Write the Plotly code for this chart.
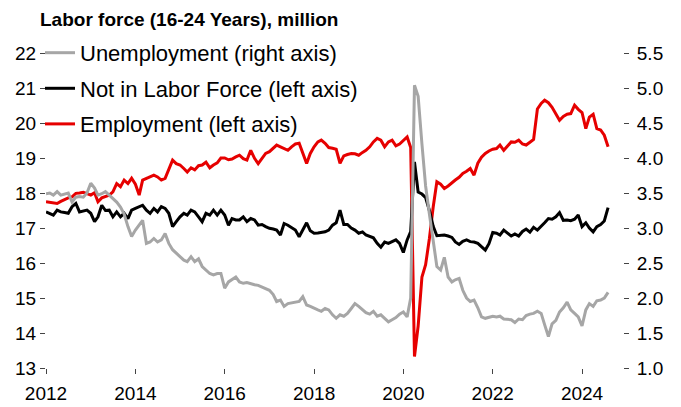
import pandas as pd
import plotly.graph_objects as go

# Monthly observations, Jan 2012 - Aug 2024
start_month = "2012-01-01"
n_months = 152

employment = [
    # 2012
    17.75, 17.74, 17.72, 17.70, 17.76, 17.82, 17.86, 17.89, 17.99, 18.00, 18.02, 17.98,
    # 2013
    17.94, 18.01, 17.75, 17.86, 17.89, 17.94, 18.03, 18.27, 18.18, 18.37, 18.27, 18.42,
    # 2014
    18.25, 17.94, 18.37, 18.42, 18.46, 18.51, 18.46, 18.37, 18.42, 18.70, 18.94, 18.84,
    # 2015
    18.80, 18.70, 18.60, 18.72, 18.66, 18.78, 18.80, 18.88, 18.72, 18.80, 18.86, 19.00,
    # 2016
    19.00, 18.95, 18.97, 19.03, 19.08, 18.98, 18.94, 19.22, 18.99, 18.84, 18.99, 19.13,
    # 2017
    19.18, 19.27, 19.37, 19.32, 19.27, 19.22, 19.32, 19.40, 19.42, 19.15, 18.84, 19.13,
    # 2018
    19.32, 19.46, 19.51, 19.42, 19.30, 19.28, 19.25, 18.85, 19.06, 19.10, 19.13, 19.12,
    # 2019
    19.08, 19.16, 19.22, 19.32, 19.46, 19.56, 19.51, 19.32, 19.46, 19.51, 19.35, 19.40,
    # 2020
    19.50, 19.60, 19.30, 13.33, 14.20, 15.60, 15.95, 16.70, 17.60, 18.32, 18.25, 18.13,
    # 2021
    18.20, 18.30, 18.37, 18.45, 18.56, 18.62, 18.70, 18.51, 18.85, 19.02, 19.13, 19.20,
    # 2022
    19.25, 19.27, 19.37, 19.22, 19.35, 19.46, 19.45, 19.51, 19.40, 19.37, 19.45, 19.53,
    # 2023
    20.40, 20.56, 20.65, 20.58, 20.45, 20.28, 20.08, 20.19, 20.25, 20.27, 20.51, 20.39,
    # 2024
    20.30, 19.84, 20.17, 20.25, 19.84, 19.80, 19.65, 19.32,
]

not_in_labor_force = [
    # 2012
    17.46, 17.42, 17.37, 17.51, 17.46, 17.44, 17.42, 17.61, 17.70, 17.46, 17.48, 17.51,
    # 2013
    17.42, 17.18, 17.32, 17.65, 17.50, 17.51, 17.32, 17.46, 17.32, 17.42, 17.27, 17.51,
    # 2014
    17.56, 17.61, 17.65, 17.51, 17.42, 17.56, 17.46, 17.61, 17.56, 17.42, 17.04, 17.18,
    # 2015
    17.32, 17.42, 17.37, 17.51, 17.46, 17.32, 17.18, 17.42, 17.37, 17.51, 17.37, 17.51,
    # 2016
    17.37, 17.08, 17.27, 17.23, 17.23, 17.32, 17.18, 17.27, 17.23, 17.08, 17.10, 17.04,
    # 2017
    16.99, 16.97, 16.94, 16.80, 17.13, 17.08, 17.00, 16.94, 16.75, 16.95, 17.15, 16.92,
    # 2018
    16.85, 16.86, 16.88, 16.89, 16.94, 17.08, 17.15, 17.51, 17.10, 17.10, 17.00, 16.94,
    # 2019
    16.85, 16.89, 16.80, 16.75, 16.72, 16.56, 16.45, 16.60, 16.56, 16.61, 16.66, 16.56,
    # 2020
    16.30, 16.66, 16.90, 18.89, 18.03, 17.97, 17.87, 17.50, 17.05, 16.78, 16.78, 16.80,
    # 2021
    16.77, 16.73, 16.60, 16.53, 16.62, 16.66, 16.61, 16.60, 16.56, 16.47, 16.37, 16.55,
    # 2022
    16.87, 16.85, 16.80, 16.94, 16.85, 16.77, 16.83, 16.77, 16.90, 16.97, 16.88, 17.02,
    # 2023
    16.94, 17.04, 17.15, 17.27, 17.25, 17.32, 17.44, 17.22, 17.23, 17.21, 17.25, 17.37,
    # 2024
    17.04, 17.15, 17.00, 16.89, 17.04, 17.10, 17.20, 17.58,
]

unemployment = [
    # 2012
    3.49, 3.50, 3.47, 3.52, 3.47, 3.48, 3.50, 3.37, 3.44, 3.45, 3.44, 3.50,
    # 2013
    3.64, 3.57, 3.47, 3.49, 3.52, 3.47, 3.42, 3.37, 3.30, 3.20, 3.02, 2.88,
    # 2014
    2.97, 3.04, 3.11, 2.78, 2.80, 2.85, 2.80, 2.83, 2.92, 2.78, 2.69, 2.64,
    # 2015
    2.59, 2.54, 2.52, 2.59, 2.52, 2.56, 2.45, 2.40, 2.35, 2.33, 2.35, 2.35,
    # 2016
    2.14, 2.23, 2.26, 2.30, 2.23, 2.21, 2.22, 2.20, 2.19, 2.18, 2.16, 2.14,
    # 2017
    2.11, 2.05, 1.95, 1.97, 1.88, 1.92, 1.93, 1.94, 1.95, 2.02, 1.90, 1.88,
    # 2018
    1.86, 1.83, 1.81, 1.85, 1.83, 1.76, 1.71, 1.76, 1.74, 1.78, 1.85, 1.92,
    # 2019
    1.88, 1.83, 1.79, 1.77, 1.81, 1.74, 1.76, 1.71, 1.66, 1.69, 1.72, 1.77,
    # 2020
    1.80, 1.73, 2.00, 5.04, 4.88, 4.20, 3.60, 3.20, 2.85, 2.45, 2.40, 2.58,
    # 2021
    2.30, 2.23, 2.26, 2.28, 2.11, 2.00, 1.95, 1.97, 1.86, 1.73, 1.71, 1.72,
    # 2022
    1.74, 1.73, 1.74, 1.70, 1.69, 1.69, 1.65, 1.70, 1.69, 1.75, 1.77, 1.78,
    # 2023
    1.81, 1.78, 1.62, 1.45, 1.63, 1.68, 1.80, 1.86, 1.94, 1.83, 1.78, 1.73,
    # 2024
    1.60, 1.83, 1.92, 1.88, 1.96, 1.97, 2.00, 2.08,
]

x_tick_years = [2012, 2014, 2016, 2018, 2020, 2022, 2024]
left_ticks = [13, 14, 15, 16, 17, 18, 19, 20, 21, 22]
right_ticks = [1.0, 1.5, 2.0, 2.5, 3.0, 3.5, 4.0, 4.5, 5.0, 5.5]

names = ["Employment (left axis)", "Not in Labor Force (left axis)", "Unemployment (right axis)"]
legend_rank = [3, 2, 1]
title_text = "Labor force (16-24 Years), million"

dates = pd.date_range(start=start_month, periods=n_months, freq="MS")

FONT = "Liberation Sans, Arial, sans-serif"

fig = go.Figure()
fig.add_trace(go.Scatter(x=dates, y=employment, name=names[0], mode="lines",
                         line=dict(color="#E60000", width=3), legendgroup="a",
                         legendrank=legend_rank[0], yaxis="y"))
fig.add_trace(go.Scatter(x=dates, y=not_in_labor_force, name=names[1], mode="lines",
                         line=dict(color="#000000", width=3), legendgroup="b",
                         legendrank=legend_rank[1], yaxis="y"))
fig.add_trace(go.Scatter(x=dates, y=unemployment, name=names[2], mode="lines",
                         line=dict(color="#A6A6A6", width=3), legendgroup="c",
                         legendrank=legend_rank[2], yaxis="y2"))

# note: the page body adds an 8px offset, margins compensate for it
fig.update_layout(
    width=681, height=407,
    margin=dict(l=38, r=66, t=45, b=47, autoexpand=False),
    paper_bgcolor="white", plot_bgcolor="white",
    font=dict(family=FONT, size=19, color="black"),
    title=dict(text="<b>" + title_text + "</b>", xref="container", yref="container",
               x=32 / 681, xanchor="left", y=1 - 11 / 407, yanchor="middle",
               font=dict(family=FONT, size=19, color="black")),
    showlegend=True,
    legend=dict(x=-0.0104, y=1.067, xanchor="left", yanchor="top", bgcolor="rgba(0,0,0,0)",
                font=dict(family=FONT, size=22, color="black"),
                traceorder="grouped", tracegroupgap=4, itemwidth=30),
    xaxis=dict(type="date", range=["2012-01-01", "2024-12-01"],
               tickvals=[pd.Timestamp(f"{y}-01-01") for y in x_tick_years],
               ticktext=[str(y) for y in x_tick_years],
               ticks="outside", ticklen=5, tickcolor="#444", showgrid=False,
               showline=False, zeroline=False, tickfont=dict(size=19),
               ticklabelstandoff=3),
    yaxis=dict(range=[13, 22], tickvals=left_ticks, ticks="outside", ticklen=5,
               tickcolor="#444", showgrid=False, showline=False, zeroline=False,
               tickfont=dict(size=19)),
    yaxis2=dict(range=[1.0, 5.5], tickvals=right_ticks,
                ticktext=[f"{v:.1f}" for v in right_ticks], overlaying="y", side="right",
                ticks="outside", ticklen=5, tickcolor="#444", showgrid=False,
                showline=False, zeroline=False, tickfont=dict(size=19),
                ticklabelstandoff=4),
)

fig.write_html("out.html")
